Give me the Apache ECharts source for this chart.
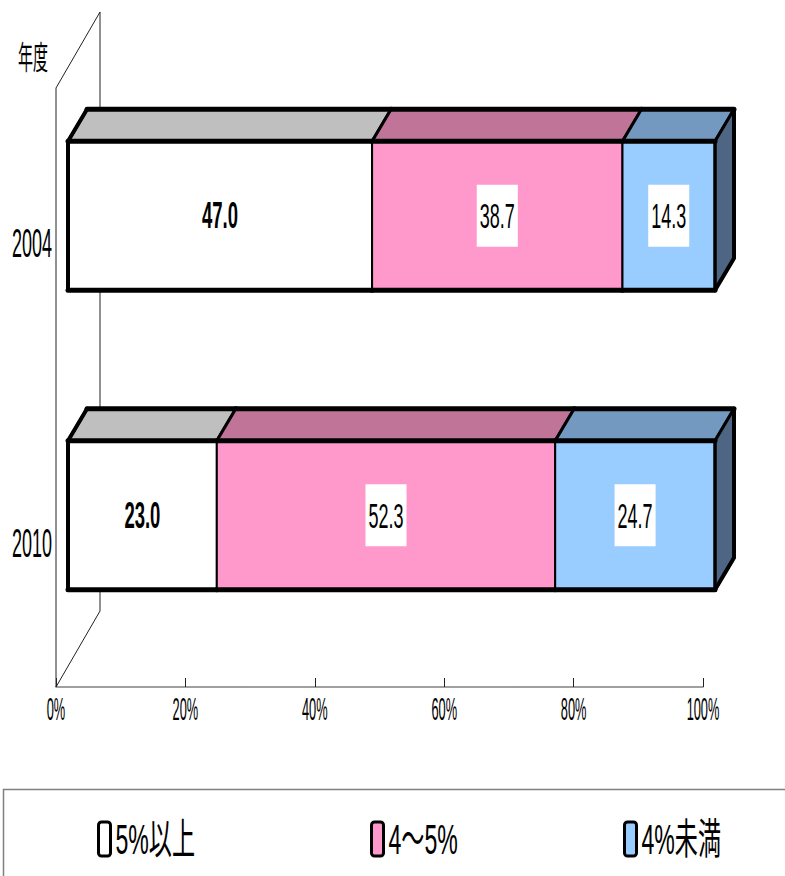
<!DOCTYPE html>
<html>
<head>
<meta charset="utf-8">
<script src="https://cdn.jsdelivr.net/npm/echarts@6/dist/echarts.min.js"></script>
<style>html,body{margin:0;padding:0;background:#fff}#c{width:785px;height:876px}</style>
</head>
<body>
<div id="c"></div>
<script>
// ---- data ----
const years = ['2004', '2010'];
const seriesNames = ['5%以上', '4～5%', '4%未満'];
const over5 = [47.0, 23.0];
const from4to5 = [38.7, 52.3];
const under4 = [14.3, 24.7];
const xTicks = [0, 20, 40, 60, 80, 100];
const axisName = '年度';

// ---- styles ----
const frontColors = ['#FFFFFF', '#FF99CC', '#99CCFF'];
const topColors = ['#BFBFBF', '#C07498', '#7399C0'];
const sideColor = '#4E6584';
const SANS = '"Liberation Sans","Arial",sans-serif';
const CJK = '"Liberation Sans","Noto Sans CJK JP",sans-serif';
const DX = 19, DY = -32, SHIFT = 12, TOPOFF = -96.5, BOTOFF = 52.5;

const valueSets = [over5, from4to5, under4];
function stackData(k) {
  return years.map((y, i) => {
    let start = 0;
    for (let j = 0; j < k; j++) start += valueSets[j][i];
    return [i, start, start + valueSets[k][i], valueSets[k][i]];
  });
}

function makeRender(k) {
  const isFirst = k === 0, isLast = k === valueSets.length - 1;
  return function (params, api) {
    const i = api.value(0);
    const p0 = api.coord([api.value(1), i]);
    const p1 = api.coord([api.value(2), i]);
    const x0 = p0[0] + SHIFT, x1 = p1[0] + SHIFT;
    const yc = p0[1];
    const yT = yc + TOPOFF, yB = yc + BOTOFF;
    const children = [];
    children.push({ type: 'rect', shape: { x: x0, y: yT, width: x1 - x0, height: yB - yT },
      style: { fill: frontColors[k], stroke: '#000', lineWidth: 2 } });
    children.push({ type: 'polygon', shape: { points: [[x0, yT], [x1, yT], [x1 + DX, yT + DY], [x0 + DX, yT + DY]] },
      style: { fill: topColors[k], stroke: '#000', lineWidth: 3, lineJoin: 'round' } });
    if (isLast) {
      children.push({ type: 'polygon', shape: { points: [[x1, yT], [x1 + DX, yT + DY], [x1 + DX, yB + DY], [x1, yB]] },
        style: { fill: sideColor, stroke: '#000', lineWidth: 3, lineJoin: 'round' } });
    }
    const thick = { stroke: '#000', lineWidth: 5, fill: null, lineJoin: 'round', lineCap: 'round' };
    children.push({ type: 'line', shape: { x1: x0, y1: yB, x2: x1, y2: yB }, style: thick });
    children.push({ type: 'line', shape: { x1: x0, y1: yT, x2: x1, y2: yT }, style: thick });
    children.push({ type: 'line', shape: { x1: x0 + DX, y1: yT + DY, x2: x1 + DX, y2: yT + DY }, style: thick });
    if (isFirst) {
      children.push({ type: 'polyline', shape: { points: [[x0, yB], [x0, yT], [x0 + DX, yT + DY]] }, style: Object.assign({}, thick, { lineWidth: 4 }) });
    }
    if (isLast) {
      children.push({ type: 'polyline', shape: { points: [[x1 + DX, yT + DY], [x1 + DX, yB + DY], [x1, yB]] }, style: Object.assign({}, thick, { lineWidth: 4 }) });
      children.push({ type: 'line', shape: { x1: x1, y1: yT, x2: x1, y2: yB }, style: Object.assign({}, thick, { lineWidth: 3 }) });
    }
    const label = api.value(3).toFixed(1);
    children.push({ type: 'text', x: (x0 + x1) / 2, y: (yT + yB) / 2, scaleX: 0.5, z2: 10,
      style: isFirst ? {
        text: label, fill: '#000', font: 'bold 37px ' + SANS, align: 'center', verticalAlign: 'middle'
      } : {
        text: label, fill: '#000', font: '36px ' + SANS, align: 'center', verticalAlign: 'middle',
        backgroundColor: '#fff', padding: [13, 6], lineHeight: 36
      } });
    return { type: 'group', children };
  };
}

const chart = echarts.init(document.getElementById('c'), null, { renderer: 'svg' });

const series = [{
  type: 'custom', name: 'wall', silent: true, z: 1, clip: false,
  data: [[0, 0]], encode: { x: 0, y: 1 },
  renderItem: function (params, api) {
    const cs = params.coordSys;
    const x = cs.x, y = cs.y, h = cs.height;
    return { type: 'polyline', shape: { points: [[x, y + h], [x, y], [x + 44, y - 76], [x + 44, y + h - 76], [x, y + h]] },
      style: { stroke: '#222', lineWidth: 1, fill: null } };
  }
}];
seriesNames.forEach((n, k) => {
  series.push({
    type: 'custom', name: n, z: 5 + k, clip: false,
    itemStyle: { color: frontColors[k], borderColor: '#000', borderWidth: 3 },
    encode: { y: 0, x: [1, 2] },
    data: stackData(k),
    renderItem: makeRender(k)
  });
});

const legendLeft = [92, 365, 618];
const option = {
  animation: false,
  backgroundColor: '#fff',
  grid: { left: 56, right: 82, top: 88, bottom: 189, containLabel: false, outerBoundsMode: 'none' },
  xAxis: {
    type: 'value', min: xTicks[0], max: xTicks[xTicks.length - 1], interval: xTicks[1] - xTicks[0],
    axisLine: { show: true, lineStyle: { color: '#808080', width: 1.5 } },
    axisTick: { show: true, inside: true, length: 9, lineStyle: { color: '#222', width: 1 } },
    splitLine: { show: false },
    axisLabel: { formatter: '{value}%', color: '#000', fontSize: 32, fontFamily: SANS, margin: 6 }
  },
  yAxis: {
    type: 'category', data: years, inverse: true,
    name: axisName, nameLocation: 'start', nameGap: 33,
    nameTextStyle: { color: '#000', fontSize: 32, fontFamily: '"Noto Sans CJK JP",sans-serif', align: 'right', verticalAlign: 'middle', padding: [0, 17, 0, 0] },
    axisLine: { show: false }, axisTick: { show: false }, splitLine: { show: false },
    axisLabel: { color: '#000', fontSize: 40, fontFamily: SANS, margin: 4, verticalAlign: 'top', lineHeight: 12 }
  },
  legend: seriesNames.map((n, k) => ({
    data: [{ name: n, itemStyle: { color: frontColors[k], borderColor: '#000', borderWidth: 3 } }],
    left: legendLeft[k], top: 813, itemWidth: 12, itemHeight: 34, icon: 'roundRect', selectedMode: false,
    textStyle: { color: '#000', fontSize: 42, fontFamily: CJK }
  })),
  graphic: [{ type: 'rect', left: 1, top: 787, shape: { width: 800, height: 120 },
    style: { fill: null, stroke: '#808080', lineWidth: 1.5 }, silent: true, z: -1 }],
  series
};
chart.setOption(option);

// condensed lettering like the original (horizontal squeeze of real text around its anchor)
const squeeze = new Map();
years.forEach(y => squeeze.set(y, 0.45));
xTicks.forEach(v => squeeze.set(v + '%', 0.4));
squeeze.set(axisName, 0.47);
seriesNames.forEach(n => squeeze.set(n, 0.55));
function condense(el) {
  if (el.type === 'text' && el.style && squeeze.has(el.style.text)) {
    el.originX = el.style.x || 0;
    el.originY = el.style.y || 0;
    el.scaleX = squeeze.get(el.style.text);
    el.markRedraw();
  }
  const kids = el.childrenRef ? el.childrenRef() : null;
  if (kids) kids.forEach(condense);
}
const zr = chart.getZr();
zr.storage.getRoots().forEach(condense);
zr.refreshImmediately();
</script>
</body>
</html>
